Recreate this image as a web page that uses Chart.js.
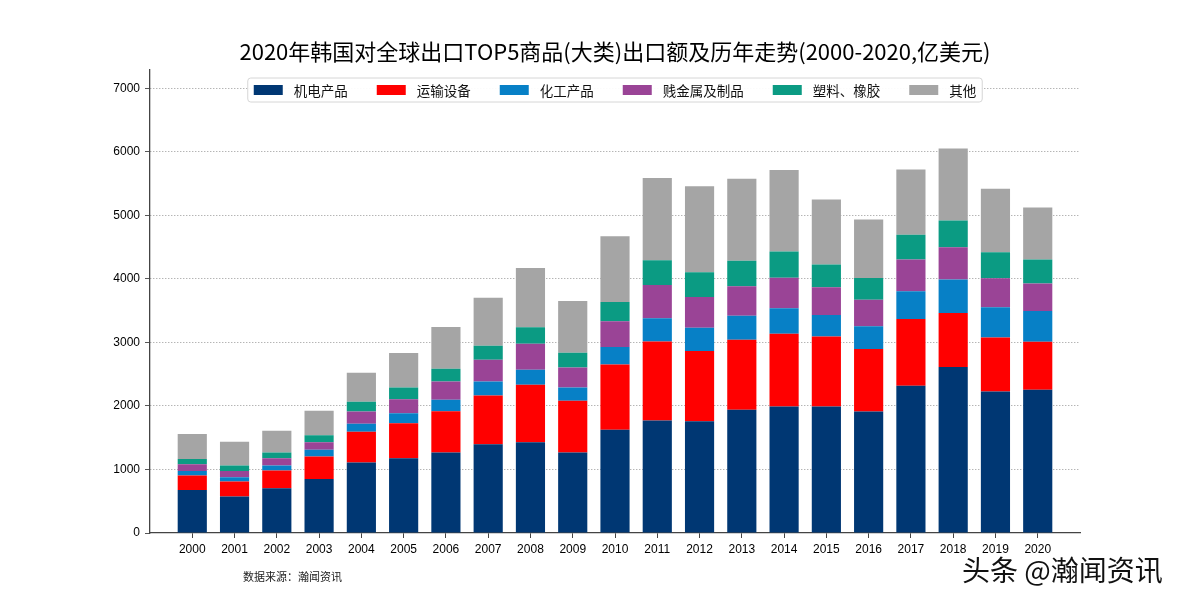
<!DOCTYPE html>
<html>
<head>
<meta charset="utf-8">
<script src="https://cdn.jsdelivr.net/npm/chart.js@4/dist/chart.umd.min.js"></script>
<style>
  html, body { margin: 0; padding: 0; background: #fff; }
  #box { width: 1200px; height: 600px; }
</style>
</head>
<body>
<div id="box"><canvas id="grafico"></canvas></div>
<script>
// 年份
var years = [2000, 2001, 2002, 2003, 2004, 2005, 2006, 2007, 2008, 2009, 2010,
             2011, 2012, 2013, 2014, 2015, 2016, 2017, 2018, 2019, 2020];

// 各类出口额(亿美元)
var jidian   = [678, 573, 704, 852, 1109, 1178, 1267, 1398, 1430, 1267, 1624, 1771, 1761, 1940, 1992, 1992, 1913, 2318, 2613, 2228, 2255];
var yunshu   = [226, 236, 279, 352, 484, 552, 652, 768, 904, 815, 1031, 1246, 1104, 1104, 1146, 1104, 984, 1052, 852, 852, 757];
var huagong  = [74, 69, 79, 105, 126, 157, 178, 220, 237, 210, 273, 363, 368, 378, 400, 337, 357, 436, 525, 473, 484];
var jianjinshu = [105, 100, 116, 121, 194, 221, 289, 342, 410, 315, 405, 526, 484, 462, 483, 436, 420, 499, 509, 458, 431];
var suliao   = [84, 84, 89, 110, 153, 184, 200, 221, 257, 232, 305, 389, 388, 401, 410, 357, 342, 390, 421, 410, 378];
var qita     = [390, 373, 342, 384, 457, 541, 657, 757, 936, 814, 1035, 1293, 1356, 1293, 1283, 1025, 920, 1030, 1136, 999, 820];

var yTicks = [0, 1000, 2000, 3000, 4000, 5000, 6000, 7000];

var ctx = document.getElementById('grafico').getContext('2d');

// legenda desenhada por cima, com moldura
var legendaBox = {
  id: 'legendaBox',
  afterDraw: function (chart) {
    var c = chart.ctx;
    var area = chart.chartArea;
    c.save();
    c.font = '13.5px "Noto Sans CJK SC"';
    var boxW = 29, boxH = 10, gap = 11, spacing = 29, pad = 6;
    var items = chart.data.datasets.map(function (ds) {
      return { label: ds.label, color: ds.backgroundColor, w: c.measureText(ds.label).width };
    });
    var total = pad * 2 + spacing * (items.length - 1);
    items.forEach(function (it) { total += boxW + gap + it.w; });
    var cx = (area.left + area.right) / 2;
    var left = cx - total / 2, top = 78, h = 24;

    c.beginPath();
    c.roundRect(left, top, total, h, 3);
    c.fillStyle = 'rgba(255,255,255,0.95)';
    c.fill();
    c.strokeStyle = '#d6d6d6';
    c.lineWidth = 1;
    c.stroke();

    var x = left + pad, cy = top + h / 2;
    c.textBaseline = 'middle';
    c.textAlign = 'left';
    items.forEach(function (it) {
      c.fillStyle = it.color;
      c.fillRect(x, cy - boxH / 2, boxW, boxH);
      x += boxW + gap;
      c.fillStyle = '#111';
      c.fillText(it.label, x, cy + 1);
      x += it.w + spacing;
    });

    // fonte
    c.font = '11px "Noto Sans CJK SC"';
    c.fillStyle = '#222';
    c.fillText('数据来源：瀚闻资讯', 243, 577);

    // marca d'água
    c.font = '28px "Noto Sans CJK SC"';
    c.lineWidth = 3;
    c.strokeStyle = '#fff';
    c.strokeText('头条 @瀚闻资讯', 962, 570);
    c.fillStyle = '#111';
    c.fillText('头条 @瀚闻资讯', 962, 570);
    c.restore();
  }
};

var data = {
  labels: years,
  datasets: [
    { label: '机电产品', data: jidian, backgroundColor: '#003773' },
    { label: '运输设备', data: yunshu, backgroundColor: '#ff0000' },
    { label: '化工产品', data: huagong, backgroundColor: '#0780c6' },
    { label: '贱金属及制品', data: jianjinshu, backgroundColor: '#9a4496' },
    { label: '塑料、橡胶', data: suliao, backgroundColor: '#0b9b83' },
    { label: '其他', data: qita, backgroundColor: '#a5a5a5' }
  ]
};

var options = {
  responsive: false,
  animation: false,
  devicePixelRatio: 1,
  layout: { padding: { left: 0, right: 120, top: 0, bottom: 0 } },
  datasets: {
    bar: { barPercentage: 0.69, categoryPercentage: 1, borderWidth: 0 }
  },
  scales: {
    x: {
      type: 'linear',
      stacked: true,
      offset: false,
      min: 1999,
      max: 2021,
      afterBuildTicks: function (scale) {
        scale.ticks = years.map(function (v) { return { value: v }; });
      },
      afterFit: function (scale) { scale.height = 67; },
      ticks: {
        callback: function (v) { return String(v); },
        color: '#000',
        font: { family: '"Liberation Sans"', size: 12 },
        padding: 4,
        maxRotation: 0,
        autoSkip: false
      },
      grid: { display: true, offset: false, drawOnChartArea: false, drawTicks: true, tickLength: 5, tickColor: '#444' },
      border: { display: true, color: '#444', width: 1.3 }
    },
    y: {
      stacked: true,
      min: 0,
      max: 7300,
      afterBuildTicks: function (scale) {
        scale.ticks = yTicks.map(function (v) { return { value: v }; });
      },
      afterFit: function (scale) { scale.width = 150; },
      ticks: {
        callback: function (v) { return String(v); },
        color: '#000',
        font: { family: '"Liberation Sans"', size: 12 },
        padding: 5
      },
      grid: {
        color: function (c) { return c.tick && c.tick.value === 0 ? 'rgba(0,0,0,0)' : '#8a8a8a'; },
        lineWidth: 0.9,
        tickLength: 5,
        tickColor: '#444',
        tickBorderDash: []
      },
      border: { display: true, color: '#444', width: 1.3, dash: [1, 2] }
    }
  },
  plugins: {
    legend: { display: false },
    tooltip: { enabled: false },
    title: {
      display: true,
      fullSize: false,
      text: '2020年韩国对全球出口TOP5商品(大类)出口额及历年走势(2000-2020,亿美元)',
      color: '#000',
      font: { family: '"Noto Sans CJK SC"', size: 22, weight: 'normal' },
      padding: { top: 38, bottom: 5 }
    }
  }
};

var canvas = document.getElementById('grafico');
canvas.width = 1200;
canvas.height = 600;

var myChart = new Chart(ctx, {
  type: 'bar',
  data: data,
  options: options,
  plugins: [legendaBox]
});
</script>
</body>
</html>
